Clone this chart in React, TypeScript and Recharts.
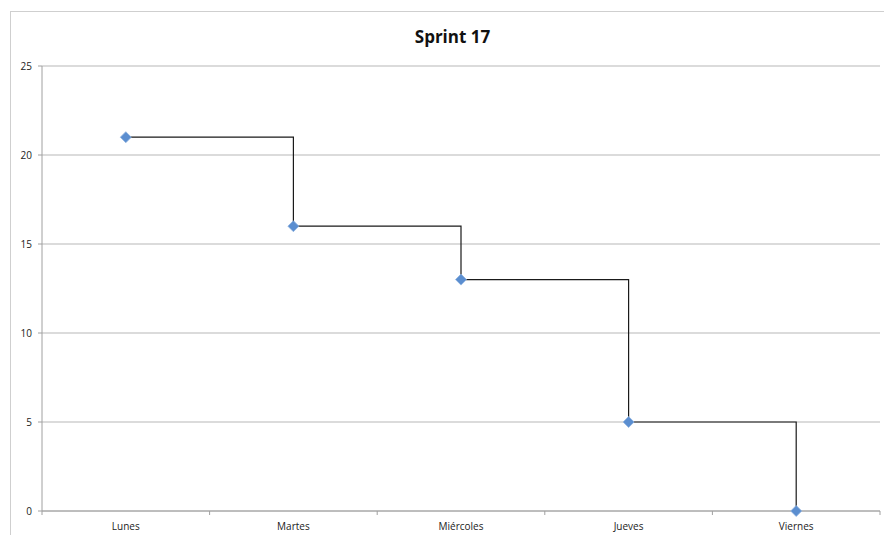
import React from "react";
import { LineChart, Line, XAxis, YAxis, CartesianGrid } from "recharts";

const days = ["Lunes", "Martes", "Miércoles", "Jueves", "Viernes"];
const remaining = [21, 16, 13, 5, 0];
const yTicks = [0, 5, 10, 15, 20, 25];

const data = days.map((d, i) => ({ day: d, value: remaining[i] }));

const W = 884;
const H = 535;
const PLOT_LEFT = 42;
const PLOT_RIGHT = 880;
const HALF_BAND = (PLOT_RIGHT - PLOT_LEFT) / days.length / 2;

const Diamond = (props: any) => {
  const { cx, cy } = props;
  if (cx == null || cy == null) return null;
  const r = 5.5;
  return (
    <g>
      <path
        d={`M${cx},${cy - r} L${cx + r},${cy} L${cx},${cy + r} L${cx - r},${cy} Z`}
        fill="#5b8ed0"
        stroke="#8fb3e0"
        strokeWidth={0.8}
      />
    </g>
  );
};

const XTick = (props: any) => {
  const { x, y, payload, index, visibleTicksCount } = props;
  return (
    <g>
      <line x1={x - HALF_BAND} x2={x - HALF_BAND} y1={y - 8} y2={y - 4} stroke="#a0a0a0" />
      {index === visibleTicksCount - 1 && (
        <line x1={x + HALF_BAND} x2={x + HALF_BAND} y1={y - 8} y2={y - 4} stroke="#a0a0a0" />
      )}
      <text x={x} y={y + 11} textAnchor="middle" fontSize={10} fill="#222" fontFamily="Open Sans, sans-serif">
        {payload.value}
      </text>
    </g>
  );
};

export default function App() {
  return (
    <div style={{ position: "absolute", left: 0, top: 0, width: W, height: H, background: "#fff", overflow: "hidden" }}>
      <div
        style={{
          position: "absolute",
          left: 10,
          top: 11,
          width: W + 20,
          height: H + 20,
          border: "1px solid #cfcfcf",
          boxSizing: "border-box",
        }}
      />
      <div
        style={{
          position: "absolute",
          left: 0,
          width: W,
          top: 25,
          textAlign: "center",
          fontFamily: "Open Sans, sans-serif",
          fontWeight: 700,
          fontSize: 17,
          color: "#111",
          paddingLeft: 21,
          boxSizing: "border-box",
        }}
      >
        Sprint 17
      </div>
      <div style={{ position: "absolute", left: 0, top: 0 }}>
        <LineChart width={W} height={H} data={data} margin={{ top: 66, right: W - PLOT_RIGHT, bottom: 4, left: 12 }}>
          <CartesianGrid vertical={false} stroke="#b8b8b8" strokeWidth={1.2} />
          <XAxis
            dataKey="day"
            padding={{ left: HALF_BAND, right: HALF_BAND }}
            axisLine={{ stroke: "#a0a0a0" }}
            tickLine={false}
            tick={<XTick />}
            height={20}
            interval={0}
          />
          <YAxis
            domain={[0, 25]}
            ticks={yTicks}
            width={30}
            axisLine={{ stroke: "#a0a0a0" }}
            tickLine={{ stroke: "#a0a0a0" }}
            tickSize={4}
            tickMargin={6}
            tick={{ fontSize: 10, fill: "#222", fontFamily: "Open Sans, sans-serif" }}
          />
          <Line
            type="stepAfter"
            dataKey="value"
            stroke="#1a1a1a"
            strokeWidth={1.2}
            dot={<Diamond />}
            activeDot={false}
            isAnimationActive={false}
          />
        </LineChart>
      </div>
    </div>
  );
}
